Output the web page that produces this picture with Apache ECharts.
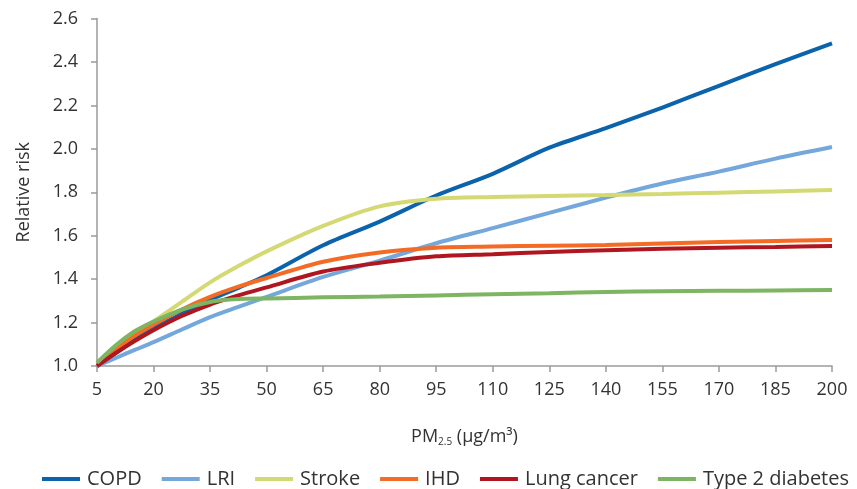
<!DOCTYPE html>
<html>
<head>
<meta charset="utf-8">
<title>Relative risk by PM2.5 exposure</title>
<script src="https://cdn.jsdelivr.net/npm/echarts@6/dist/echarts.min.js"></script>
<style>
  html, body { margin: 0; padding: 0; background: #ffffff; }
  #chart { width: 857px; height: 489px; }
</style>
</head>
<body>
<div id="chart"></div>
<script>
// PM2.5 concentrations (µg/m³) where each curve is sampled
const pm = [5, 10, 15, 20, 27.5, 35, 42.5, 50, 65, 80, 95, 110, 125, 140, 155, 170, 185, 200];

// Relative risk per outcome
const copd     = [1.0, 1.06, 1.12, 1.173, 1.24, 1.305, 1.36, 1.418, 1.556, 1.665, 1.785, 1.885, 2.005, 2.095, 2.19, 2.29, 2.39, 2.485];
const lri      = [1.0, 1.037, 1.074, 1.11, 1.168, 1.225, 1.272, 1.318, 1.41, 1.485, 1.565, 1.635, 1.705, 1.775, 1.84, 1.895, 1.955, 2.008];
const stroke   = [1.0, 1.075, 1.145, 1.205, 1.295, 1.385, 1.46, 1.528, 1.645, 1.735, 1.77, 1.778, 1.783, 1.787, 1.792, 1.798, 1.804, 1.81];
const ihd      = [1.0, 1.075, 1.14, 1.19, 1.26, 1.318, 1.365, 1.405, 1.48, 1.523, 1.545, 1.55, 1.554, 1.557, 1.564, 1.571, 1.576, 1.58];
const lung     = [1.0, 1.06, 1.115, 1.165, 1.23, 1.283, 1.325, 1.362, 1.435, 1.475, 1.505, 1.515, 1.525, 1.533, 1.54, 1.545, 1.548, 1.552];
const diabetes = [1.015, 1.095, 1.16, 1.205, 1.26, 1.295, 1.308, 1.311, 1.316, 1.32, 1.325, 1.33, 1.335, 1.341, 1.344, 1.346, 1.348, 1.35];

const seriesNames = ['COPD', 'LRI', 'Stroke', 'IHD', 'Lung cancer', 'Type 2 diabetes'];
const seriesData  = [copd, lri, stroke, ihd, lung, diabetes];
const colors = ['#0b63ab', '#74a8dc', '#d4d973', '#f36b24', '#b0161f', '#7db563'];

// X axis ticks run 5, 20, ..., 200; the axis is laid out from 0 so ticks
// land on multiples of the interval, and labels add the offset back.
const X_START = 5;
const X_END = 200;
const X_STEP = 15;

const chart = echarts.init(document.getElementById('chart'), null, { renderer: 'canvas' });

const FONT = 'Open Sans';
const labelFont = { fontFamily: FONT, fontSize: 18, color: '#333333' };

chart.setOption({
  animation: false,
  backgroundColor: '#ffffff',
  color: colors,
  grid: { left: 97, right: 25, top: 18.5, bottom: 123, containLabel: false },
  legend: {
    bottom: -5,
    left: 37,
    icon: 'rect',
    itemWidth: 38,
    itemHeight: 4,
    itemGap: 20,
    textStyle: { fontFamily: FONT, fontSize: 20, color: '#333333', padding: [0, 0, 0, 2] },
    data: seriesNames
  },
  xAxis: {
    type: 'value',
    min: 0,
    max: X_END - X_START,
    interval: X_STEP,
    axisLine: { lineStyle: { color: '#9a9a9a', width: 1.5 } },
    axisTick: { show: true, length: 6, lineStyle: { color: '#9a9a9a', width: 1.5 } },
    splitLine: { show: false },
    axisLabel: Object.assign({ margin: 15, formatter: v => String(v + X_START) }, labelFont),
    name: 'PM{sub|2.5} (μg/m³)',
    nameLocation: 'middle',
    nameGap: 60,
    nameTextStyle: {
      fontFamily: FONT, fontSize: 18, color: '#333333',
      rich: { sub: { fontFamily: FONT, fontSize: 10, color: '#333333', verticalAlign: 'bottom', padding: [11, 0, 0, 0] } }
    }
  },
  yAxis: {
    type: 'value',
    min: 1.0,
    max: 2.6,
    interval: 0.2,
    axisLine: { show: true, lineStyle: { color: '#9a9a9a', width: 1.5 } },
    axisTick: { show: true, length: 6, lineStyle: { color: '#9a9a9a', width: 1.5 } },
    splitLine: { show: false },
    axisLabel: Object.assign({ margin: 19, formatter: v => v.toFixed(1) }, labelFont),
    name: 'Relative risk',
    nameLocation: 'middle',
    nameGap: 64,
    nameRotate: 90,
    nameTextStyle: { fontFamily: FONT, fontSize: 18, color: '#333333' }
  },
  series: seriesNames.map((name, i) => ({
    name: name,
    type: 'line',
    smooth: 0.3,
    showSymbol: false,
    symbol: 'none',
    lineStyle: { width: 4, color: colors[i] },
    itemStyle: { color: colors[i] },
    data: pm.map((x, k) => [x - X_START, seriesData[i][k]])
  }))
});
</script>
</body>
</html>
